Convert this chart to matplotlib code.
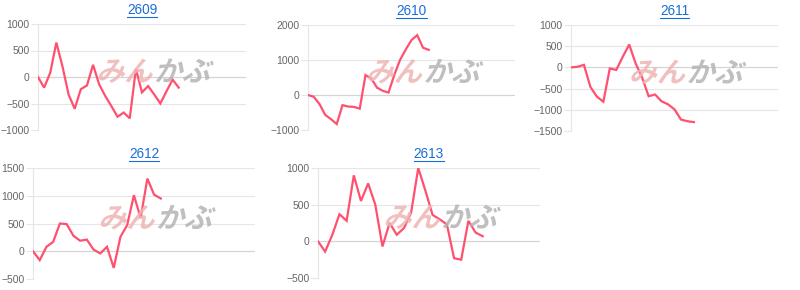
import matplotlib
matplotlib.use('Agg')
import matplotlib.pyplot as plt
from matplotlib.textpath import TextPath
from matplotlib.patches import PathPatch
from matplotlib.font_manager import FontProperties
from matplotlib.transforms import Affine2D, IdentityTransform
from matplotlib.lines import Line2D

plt.rcParams['font.family'] = ['Liberation Sans', 'DejaVu Sans']

titles = ['2609', '2610', '2611', '2612', '2613']

v2609 = [0, -200, 80, 650, 200, -330, -600, -230, -160, 230, -140, -360,
         -550, -750, -670, -780, 150, -290, -170, -330, -500, -270, -50, -200]
v2610 = [0, -50, -260, -570, -690, -830, -290, -330, -340, -390, 570, 470,
         210, 120, 70, 570, 1000, 1300, 1570, 1710, 1350, 1290]
v2611 = [0, 15, 60, -460, -690, -810, -25, -60, 250, 540, 90, -240,
         -680, -640, -800, -870, -990, -1230, -1270, -1290]
v2612 = [0, -160, 80, 170, 500, 490, 280, 190, 210, 30, -40, 80,
         -300, 260, 470, 1010, 600, 1310, 1020, 950]
v2613 = [0, -140, 90, 370, 280, 900, 550, 790, 500, -70, 250, 90,
         180, 390, 1000, 690, 360, 300, 230, -230, -250, 280, 120, 70]
series = [v2609, v2610, v2611, v2612, v2613]

# number of x slots on each category axis
x_slots = [34, 36, 32, 33, 31]
y_ranges = [(-1000, 1000, 500), (-1000, 2000, 1000), (-1500, 1000, 500),
            (-500, 1500, 500), (-500, 1000, 500)]

# axes boxes in pixels: left, top, right, bottom
boxes = [(38, 24, 246, 130), (308, 25, 515, 130), (571, 25, 778, 131),
         (33, 168, 255, 279), (318, 168, 540, 278)]

W, H = 800, 290
fig = plt.figure(figsize=(W / 100, H / 100), dpi=100)

grid_c = '#e6e6e6'
line_c = '#ff5070'
link_c = '#1a6fd6'
wm_font = FontProperties(family='Noto Sans CJK JP', weight='bold')

title_texts = []
for i in range(5):
    l, t, r, b = boxes[i]
    ax = fig.add_axes([l / W, (H - b) / H, (r - l) / W, (b - t) / H])
    vals = series[i]
    ax.plot(range(len(vals)), vals, color=line_c, lw=1.6, zorder=3,
            solid_joinstyle='miter')
    lo, hi, step = y_ranges[i]
    ax.set_ylim(lo, hi)
    ax.set_yticks(range(lo, hi + 1, step))
    ax.set_xlim(0, x_slots[i])
    ax.set_xticks([])
    ax.grid(axis='y', color=grid_c, lw=0.8)
    ax.axhline(0, color='#d4d4d4', lw=0.8, zorder=1)
    for s in ['top', 'right', 'bottom']:
        ax.spines[s].set_visible(False)
    ax.spines['left'].set_color(grid_c)
    ax.spines['left'].set_linewidth(0.8)
    ax.tick_params(axis='y', colors=grid_c, labelcolor='#666666',
                   labelsize=7.5, length=5, width=0.8, pad=1)
    ax.set_axisbelow(True)
    txt = fig.text((l + r) / 2 / W, 1 - (t - 14) / H, titles[i], color=link_c,
                   fontsize=9.8, ha='center', va='center')
    title_texts.append(txt)

    # watermark logo
    cx = (l + r) / 2 + 10
    cy = H - ((t + b) / 2 - 7)
    p1 = TextPath((0, 0), 'みん', prop=wm_font, size=28)
    p2 = TextPath((0, 0), 'かぶ', prop=wm_font, size=28)
    w1 = p1.get_extents().width
    w2 = p2.get_extents().width
    x0 = cx - (w1 + w2 + 4) / 2
    y0 = cy - 11
    tr1 = Affine2D().skew_deg(15, 0).translate(x0, y0)
    tr2 = Affine2D().skew_deg(15, 0).translate(x0 + w1 + 4, y0)
    fig.add_artist(PathPatch(p1, transform=tr1 + IdentityTransform(),
                             fc='#f0b4b4', ec='none', alpha=0.85, zorder=2))
    fig.add_artist(PathPatch(p2, transform=tr2 + IdentityTransform(),
                             fc='#b4b4b4', ec='none', alpha=0.85, zorder=2))

# underline the link titles
fig.canvas.draw()
for txt in title_texts:
    bb = txt.get_window_extent()
    yl = (bb.y0 + 0.5) / H
    fig.add_artist(Line2D([bb.x0 / W, bb.x1 / W], [yl, yl], color=link_c,
                          lw=0.8, transform=fig.transFigure))

fig.savefig('out.png', dpi=100)
